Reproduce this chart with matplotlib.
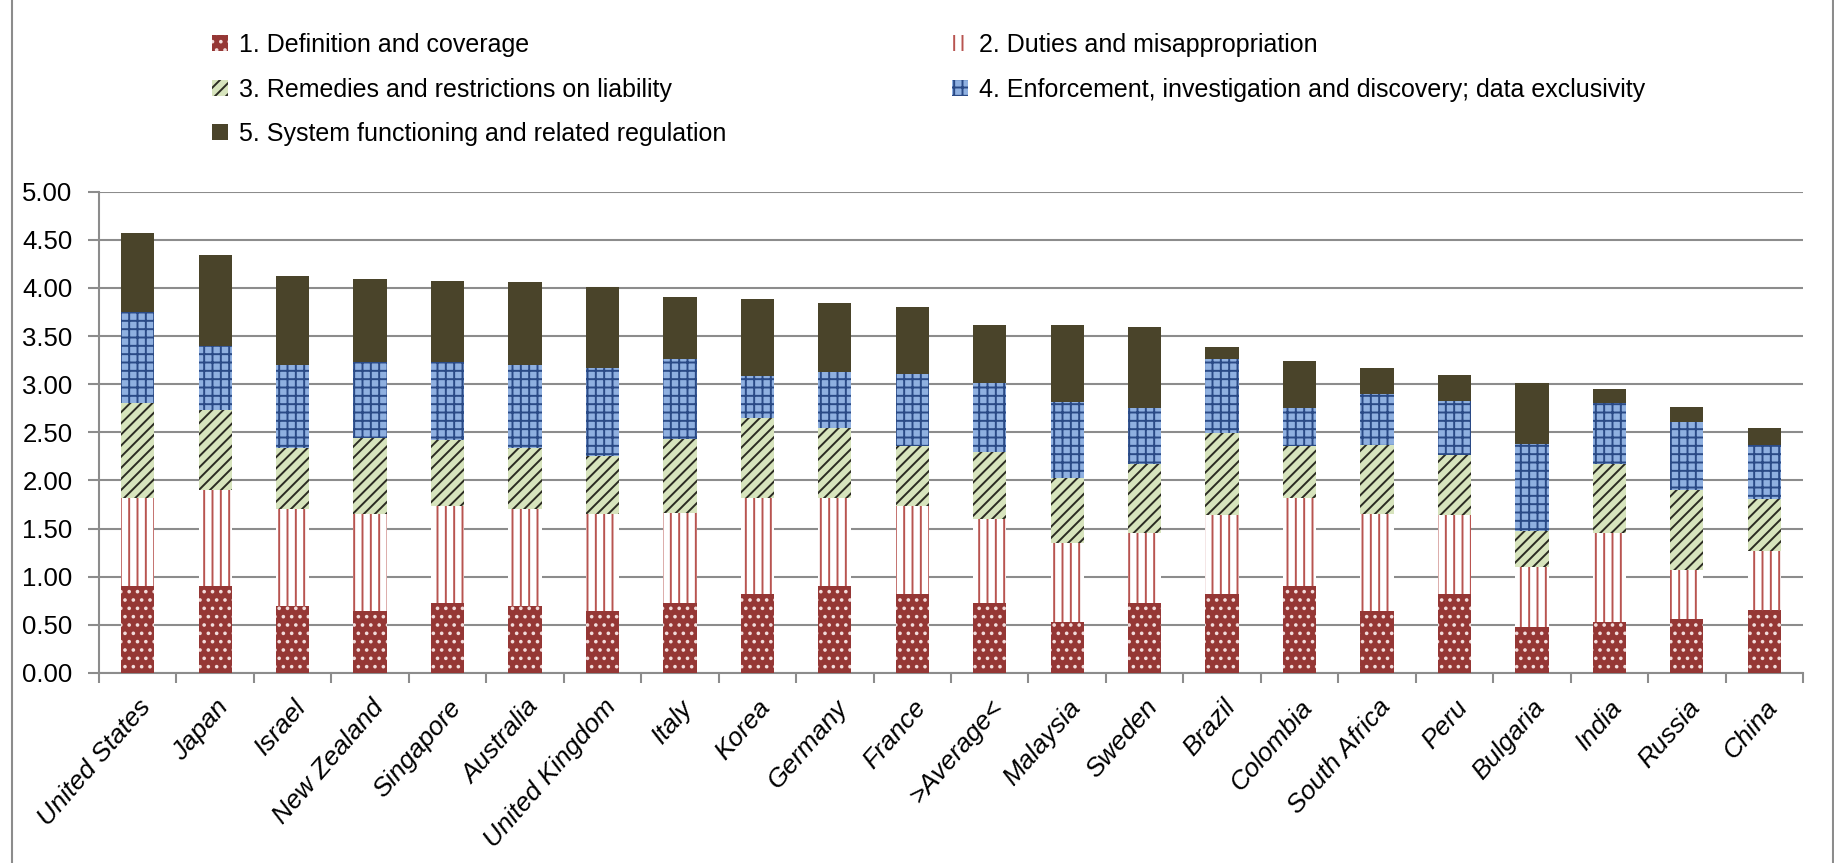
import matplotlib
matplotlib.use("Agg")
import matplotlib.pyplot as plt
import numpy as np
from matplotlib.patches import Patch
from matplotlib.lines import Line2D

plt.rcParams["font.family"] = ["Liberation Sans", "DejaVu Sans"]
plt.rcParams["hatch.linewidth"] = 1.4

countries = ["United States", "Japan", "Israel", "New Zealand", "Singapore", "Australia",
             "United Kingdom", "Italy", "Korea", "Germany", "France", ">Average<",
             "Malaysia", "Sweden", "Brazil", "Colombia", "South Africa", "Peru",
             "Bulgaria", "India", "Russia", "China"]

definition = [0.90, 0.90, 0.70, 0.64, 0.73, 0.70, 0.64, 0.73, 0.82, 0.90, 0.82, 0.73,
              0.53, 0.73, 0.82, 0.90, 0.64, 0.82, 0.48, 0.53, 0.56, 0.65]
duties = [0.92, 1.00, 1.00, 1.01, 1.01, 1.00, 1.01, 0.93, 1.00, 0.92, 0.92, 0.87,
          0.82, 0.72, 0.82, 0.92, 1.01, 0.82, 0.62, 0.92, 0.51, 0.62]
remedies = [0.99, 0.83, 0.64, 0.79, 0.68, 0.64, 0.60, 0.77, 0.83, 0.72, 0.62, 0.70,
            0.68, 0.72, 0.85, 0.54, 0.72, 0.62, 0.37, 0.72, 0.83, 0.54]
enforcement = [0.94, 0.67, 0.86, 0.79, 0.81, 0.86, 0.92, 0.83, 0.44, 0.59, 0.75, 0.71,
               0.79, 0.58, 0.77, 0.39, 0.53, 0.57, 0.91, 0.63, 0.71, 0.56]
system = [0.82, 0.94, 0.92, 0.86, 0.84, 0.86, 0.84, 0.65, 0.80, 0.71, 0.69, 0.61,
          0.80, 0.84, 0.13, 0.49, 0.27, 0.27, 0.63, 0.15, 0.15, 0.18]

labels = ["1. Definition and coverage",
          "2. Duties and misappropriation",
          "3. Remedies and restrictions on liability",
          "4. Enforcement, investigation and discovery; data exclusivity",
          "5. System functioning and related regulation"]

# face, hatch colour, hatch
STYLES = [
    dict(facecolor="#953735", edgecolor="#f2dcdb", hatch=".."),
    dict(facecolor="white", edgecolor="#b85450", hatch="||"),
    dict(facecolor="#d7e4bd", edgecolor="#2b2b22", hatch="///"),
    dict(facecolor="#8fb0e0", edgecolor="#2a4a86", hatch="++"),
    dict(facecolor="#4a442a", edgecolor="#4a442a", hatch=None),
]

W, H = 1834, 863
fig = plt.figure(figsize=(W / 100, H / 100), dpi=100)
ax = fig.add_axes([99 / W, 1 - 673 / H, (1803 - 99) / W, (673 - 191.7) / H])

x = np.arange(len(countries))
bottom = np.zeros(len(countries))
series = [definition, duties, remedies, enforcement, system]
for vals, st, lab in zip(series, STYLES, labels):
    ax.bar(x, vals, 0.43, bottom=bottom, linewidth=0, label=lab, zorder=3, **st)
    bottom += np.array(vals)

ax.set_xlim(-0.5, len(countries) - 0.5)
ax.set_ylim(0, 5)
ax.set_yticks(np.arange(0, 5.01, 0.5))
ax.set_yticklabels([f"{v:.2f}" for v in np.arange(0, 5.01, 0.5)])
ax.yaxis.grid(True, color="#8c8c8c", linewidth=1.5, zorder=0)
ax.set_axisbelow(True)

ax.set_xticks(x)
ax.set_xticklabels(countries, rotation=49, ha="right", rotation_mode="anchor",
                   fontstyle="italic", fontsize=19)
ax.set_xticks(np.arange(-0.5, len(countries)), minor=True)
ax.tick_params(axis="x", which="major", length=0, pad=16)
ax.tick_params(axis="x", which="minor", length=7, width=1.5, color="#8c8c8c", direction="out")
ax.tick_params(axis="y", length=8, width=1.5, color="#8c8c8c", labelsize=18.5, pad=11)

for s in ["top", "right"]:
    ax.spines[s].set_visible(False)
for s in ["left", "bottom"]:
    ax.spines[s].set_color("#8c8c8c")
    ax.spines[s].set_linewidth(1.5)

handles = [Patch(linewidth=0, **st) for st in STYLES]
leg_kw = dict(frameon=False, fontsize=18, handlelength=0.62, handleheight=0.62,
              handletextpad=0.45, labelspacing=0.82, borderpad=0, borderaxespad=0,
              loc="upper left")
fig.legend([handles[0], handles[2], handles[4]], [labels[0], labels[2], labels[4]],
           bbox_to_anchor=(212 / W, 1 - 33 / H), **leg_kw)
fig.legend([handles[1], handles[3]], [labels[1], labels[3]],
           bbox_to_anchor=(952 / W, 1 - 33 / H), **leg_kw)

# chart area border
fig.add_artist(Line2D([11.5 / W, 11.5 / W], [0, 1], color="#8c8c8c", linewidth=1.5))
fig.add_artist(Line2D([1832.5 / W, 1832.5 / W], [0, 1], color="#8c8c8c", linewidth=1.5))

fig.savefig("out.png", dpi=100)
